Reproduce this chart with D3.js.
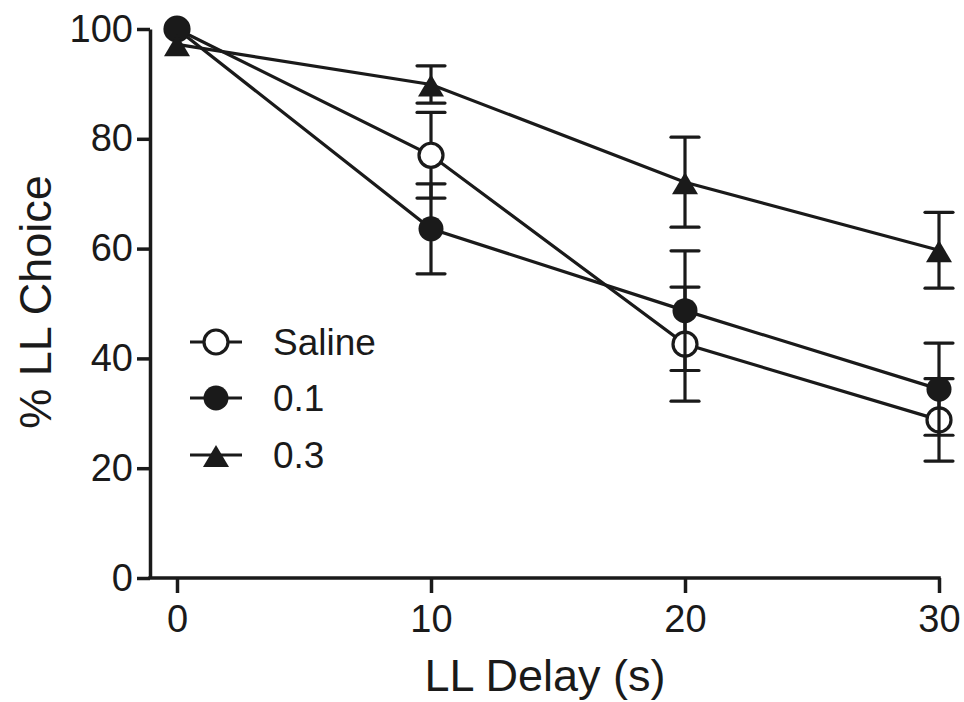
<!DOCTYPE html>
<html>
<head>
<meta charset="utf-8">
<script src="https://cdn.jsdelivr.net/npm/d3@7"></script>
<style>
  body { margin: 0; background: #fff; }
  svg text { font-family: Arial, "Liberation Sans", sans-serif; fill: #1a1a1a; }
</style>
</head>
<body>
<div id="chart"></div>
<script>
// data
const delays = [0, 10, 20, 30];
const xTicks = [0, 10, 20, 30];
const yTicks = [0, 20, 40, 60, 80, 100];
const seriesNames = ["Saline", "0.1", "0.3"];
const salineMean = [100, 77.0, 42.6, 28.8];
const salineErr = [0, 7.8, 10.4, 7.5];
const dose01Mean = [100, 63.6, 48.7, 34.4];
const dose01Err = [0, 8.2, 10.9, 8.4];
const dose03Mean = [97.2, 89.9, 72.1, 59.7];
const dose03Err = [0, 3.4, 8.2, 6.9];

const width = 964, height = 702;
const ink = "#1a1a1a";
const lineWidth = 3.2;
const capHalf = 14;
const axisX = 150;

const svg = d3.select("#chart").append("svg")
    .attr("width", width)
    .attr("height", height);

const x = d3.scaleLinear().domain([0, 30]).range([177, 939]);
const y = d3.scaleLinear().domain([0, 100]).range([578, 29]);

// axes
const yAxis = svg.append("g")
    .attr("transform", `translate(${axisX},0)`)
    .call(d3.axisLeft(y).tickValues(yTicks).tickSize(13).tickSizeOuter(0).tickPadding(4));
yAxis.select(".domain").attr("stroke", ink).attr("stroke-width", 3.5);
yAxis.selectAll(".tick line").attr("stroke", ink).attr("stroke-width", 3.5);
yAxis.selectAll(".tick text")
    .attr("fill", ink)
    .style("font-size", "38px")
    .style("font-family", "Arial, 'Liberation Sans', sans-serif");

const xAxis = svg.append("g")
    .attr("transform", `translate(0,${y(0)})`)
    .call(d3.axisBottom(x).tickValues(xTicks).tickSize(15).tickSizeOuter(0).tickPadding(12));
xAxis.select(".domain").remove();
xAxis.selectAll(".tick line").attr("stroke", ink).attr("stroke-width", 3.5);
xAxis.selectAll(".tick text")
    .attr("fill", ink)
    .style("font-size", "38px")
    .style("font-family", "Arial, 'Liberation Sans', sans-serif");
xAxis.append("line")
    .attr("x1", axisX - 1.75).attr("x2", x(30) + 1.75)
    .attr("stroke", ink).attr("stroke-width", 3.5);

// axis titles
svg.append("text")
    .attr("x", 545).attr("y", 691)
    .attr("text-anchor", "middle")
    .style("font-size", "45px")
    .text("LL Delay (s)");

svg.append("text")
    .attr("transform", "translate(51,302) rotate(-90)")
    .attr("text-anchor", "middle")
    .style("font-size", "45px")
    .text("% LL Choice");

// marker drawing
function drawMarker(g, kind, cx, cy) {
    if (kind === "open") {
        g.append("circle").attr("cx", cx).attr("cy", cy).attr("r", 12)
            .attr("fill", "#fff").attr("stroke", ink).attr("stroke-width", 3.2);
    } else if (kind === "filled") {
        g.append("circle").attr("cx", cx).attr("cy", cy).attr("r", 12.5)
            .attr("fill", ink);
    } else {
        const w = 13, h = 11;
        g.append("path")
            .attr("d", `M${cx},${cy - h + 1}L${cx + w},${cy + h + 1}L${cx - w},${cy + h + 1}Z`)
            .attr("fill", ink);
    }
}

const series = [
    { name: seriesNames[0], mean: salineMean, err: salineErr, kind: "open" },
    { name: seriesNames[1], mean: dose01Mean, err: dose01Err, kind: "filled" },
    { name: seriesNames[2], mean: dose03Mean, err: dose03Err, kind: "tri" }
];

const line = d3.line()
    .x((d, i) => x(delays[i]))
    .y(d => y(d));

series.forEach(s => {
    const g = svg.append("g");
    g.append("path")
        .attr("d", line(s.mean))
        .attr("fill", "none")
        .attr("stroke", ink)
        .attr("stroke-width", lineWidth);

    s.mean.forEach((m, i) => {
        if (s.err[i] <= 0) return;
        const cx = x(delays[i]);
        const top = y(m + s.err[i]), bot = y(m - s.err[i]);
        g.append("line").attr("x1", cx).attr("x2", cx).attr("y1", top).attr("y2", bot)
            .attr("stroke", ink).attr("stroke-width", lineWidth);
        [top, bot].forEach(cy => {
            g.append("line").attr("x1", cx - capHalf).attr("x2", cx + capHalf)
                .attr("y1", cy).attr("y2", cy)
                .attr("stroke", ink).attr("stroke-width", lineWidth)
                .attr("stroke-linecap", "round");
        });
    });

    s.mean.forEach((m, i) => drawMarker(g, s.kind, x(delays[i]), y(m)));
});

// legend
const legendRows = [342, 398, 455];
series.forEach((s, i) => {
    const g = svg.append("g");
    const ly = legendRows[i];
    g.append("line").attr("x1", 190).attr("x2", 242).attr("y1", ly).attr("y2", ly)
        .attr("stroke", ink).attr("stroke-width", lineWidth);
    drawMarker(g, s.kind, 216, ly);
    g.append("text")
        .attr("x", 273).attr("y", ly)
        .attr("dy", "0.36em")
        .style("font-size", "37px")
        .text(s.name);
});
</script>
</body>
</html>
